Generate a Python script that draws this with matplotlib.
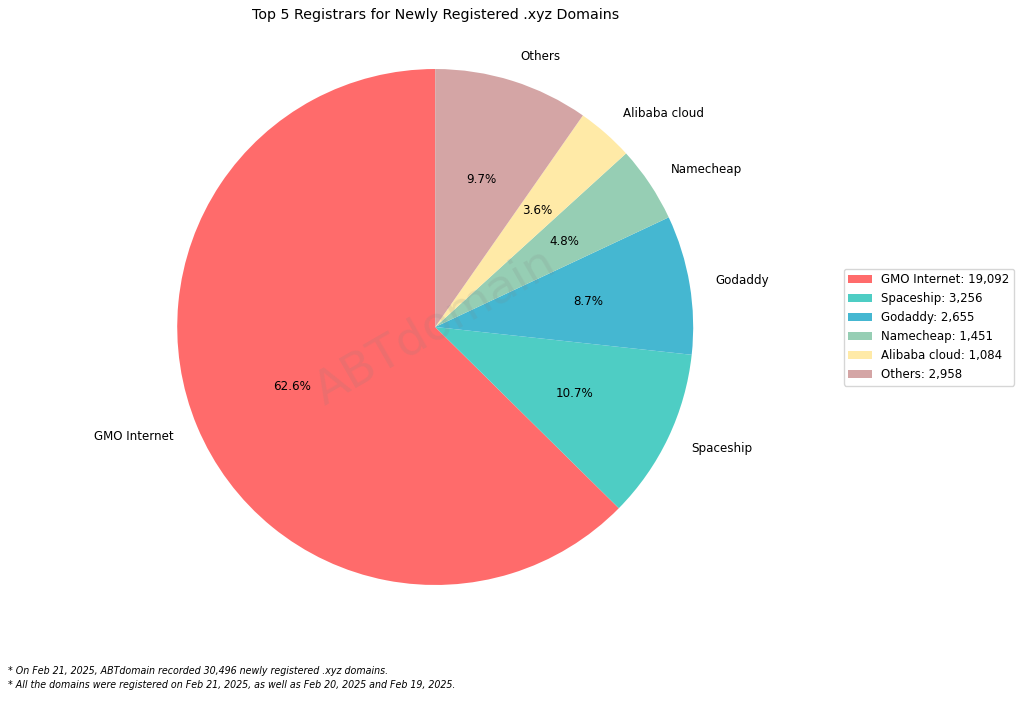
import matplotlib.pyplot as plt

registrars = ['GMO Internet', 'Spaceship', 'Godaddy', 'Namecheap', 'Alibaba cloud', 'Others']
counts = [19092, 3256, 2655, 1451, 1084, 2958]
colors = ['#FF6B6B', '#4ECDC4', '#45B7D1', '#96CEB4', '#FFEAA7', '#D4A5A5']

fig = plt.figure(figsize=(10.24, 7.19), dpi=100)
ax = fig.add_axes([0.11, 0.0967, 0.63, 0.897])

wedges, texts, autotexts = ax.pie(counts, labels=registrars, colors=colors, autopct='%1.1f%%',
                                  startangle=90, counterclock=True, labeldistance=1.1,
                                  textprops={'fontsize': 8.6})
ax.set_aspect('equal')
fig.text(0.425, 0.979, 'Top 5 Registrars for Newly Registered .xyz Domains', fontsize=10.3,
         ha='center', va='center')

# watermark
ax.text(0, 0, 'ABTdomain', fontsize=34, color='gray', alpha=0.15, rotation=30,
        ha='center', va='center')

labels = ['{}: {:,}'.format(r, c) for r, c in zip(registrars, counts)]
fig.legend(wedges, labels, loc='center left', bbox_to_anchor=(0.818, 0.545), fontsize=8.5)

fig.text(0.008, 0.062, '* On Feb 21, 2025, ABTdomain recorded 30,496 newly registered .xyz domains.',
         fontsize=6.85, style='italic')
fig.text(0.008, 0.043, '* All the domains were registered on Feb 21, 2025, as well as Feb 20, 2025 and Feb 19, 2025.',
         fontsize=6.85, style='italic')

fig.savefig('out.png', dpi=100)
